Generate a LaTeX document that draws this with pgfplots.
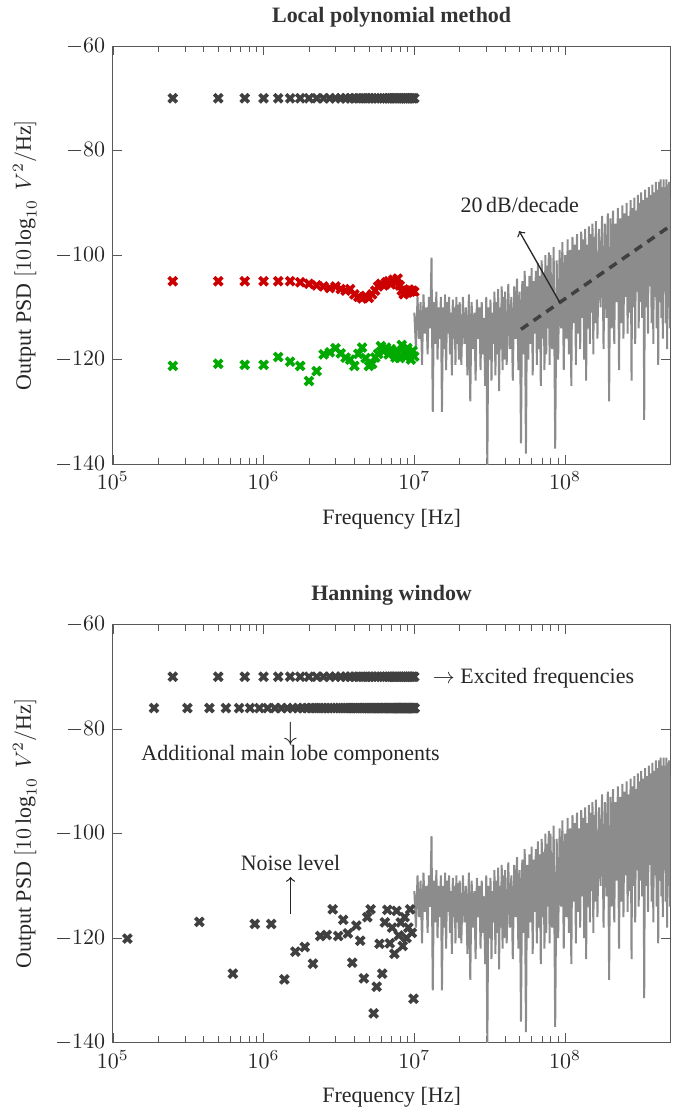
\documentclass[border=0pt]{standalone}
\usepackage{fontspec}
\setmainfont{Liberation Serif}
\usepackage{pgfplots}
\usepackage{pgfplotstable}
\pgfplotsset{compat=1.18}
\definecolor{mkgray}{HTML}{404040}
\definecolor{lpred}{HTML}{CC0000}
\definecolor{lpgreen}{HTML}{00AA00}
\definecolor{noisegray}{HTML}{8C8C8C}

% excited lines: local polynomial estimates (red = noise, green = ...) 
\pgfplotstableread[row sep=\\]{
f exc red green\\
0.25e6 -70 -105.0 -121.2\\ 0.50e6 -70 -105.0 -120.8\\ 0.75e6 -70 -105.0 -121.0\\ 1.00e6 -70 -105.0 -121.0\\
1.25e6 -70 -105.0 -119.5\\ 1.50e6 -70 -105.0 -120.4\\ 1.75e6 -70 -105.2 -121.2\\ 2.00e6 -70 -105.5 -124.1\\
2.25e6 -70 -105.8 -122.2\\ 2.50e6 -70 -106.0 -119.0\\ 2.75e6 -70 -106.3 -118.6\\ 3.00e6 -70 -106.0 -117.8\\
3.25e6 -70 -106.5 -118.8\\ 3.50e6 -70 -106.8 -119.6\\ 3.75e6 -70 -106.5 -120.0\\ 4.00e6 -70 -107.5 -121.2\\
4.25e6 -70 -108.0 -118.9\\ 4.50e6 -70 -108.3 -117.7\\ 4.75e6 -70 -107.8 -119.7\\ 5.00e6 -70 -108.2 -121.2\\
5.25e6 -70 -107.5 -120.8\\ 5.50e6 -70 -106.8 -119.6\\ 5.75e6 -70 -106.0 -118.9\\ 6.00e6 -70 -105.5 -117.4\\
6.25e6 -70 -105.8 -118.4\\ 6.50e6 -70 -105.2 -117.7\\ 6.75e6 -70 -105.0 -119.0\\ 7.00e6 -70 -105.6 -118.0\\
7.25e6 -70 -104.7 -118.6\\ 7.50e6 -70 -105.3 -119.6\\ 7.75e6 -70 -104.5 -118.6\\ 8.00e6 -70 -105.8 -119.7\\
8.25e6 -70 -106.8 -117.2\\ 8.50e6 -70 -107.5 -118.5\\ 8.75e6 -70 -106.8 -119.5\\ 9.00e6 -70 -107.2 -117.8\\
9.25e6 -70 -106.6 -118.8\\ 9.50e6 -70 -107.0 -120.0\\ 9.75e6 -70 -106.8 -118.3\\ 10.00e6 -70 -107.0 -119.4\\
}\lpm

% hanning: main lobe leakage next to each excited line
\pgfplotstableread[row sep=\\]{
f y\\
0.1875e6 -76\\ 0.3125e6 -76\\ 0.4375e6 -76\\ 0.5625e6 -76\\ 0.6875e6 -76\\ 0.8125e6 -76\\ 0.9375e6 -76\\ 1.0625e6 -76\\
1.1875e6 -76\\ 1.3125e6 -76\\ 1.4375e6 -76\\ 1.5625e6 -76\\ 1.6875e6 -76\\ 1.8125e6 -76\\ 1.9375e6 -76\\ 2.0625e6 -76\\
2.1875e6 -76\\ 2.3125e6 -76\\ 2.4375e6 -76\\ 2.5625e6 -76\\ 2.6875e6 -76\\ 2.8125e6 -76\\ 2.9375e6 -76\\ 3.0625e6 -76\\
3.1875e6 -76\\ 3.3125e6 -76\\ 3.4375e6 -76\\ 3.5625e6 -76\\ 3.6875e6 -76\\ 3.8125e6 -76\\ 3.9375e6 -76\\ 4.0625e6 -76\\
4.1875e6 -76\\ 4.3125e6 -76\\ 4.4375e6 -76\\ 4.5625e6 -76\\ 4.6875e6 -76\\ 4.8125e6 -76\\ 4.9375e6 -76\\ 5.0625e6 -76\\
5.1875e6 -76\\ 5.3125e6 -76\\ 5.4375e6 -76\\ 5.5625e6 -76\\ 5.6875e6 -76\\ 5.8125e6 -76\\ 5.9375e6 -76\\ 6.0625e6 -76\\
6.1875e6 -76\\ 6.3125e6 -76\\ 6.4375e6 -76\\ 6.5625e6 -76\\ 6.6875e6 -76\\ 6.8125e6 -76\\ 6.9375e6 -76\\ 7.0625e6 -76\\
7.1875e6 -76\\ 7.3125e6 -76\\ 7.4375e6 -76\\ 7.5625e6 -76\\ 7.6875e6 -76\\ 7.8125e6 -76\\ 7.9375e6 -76\\ 8.0625e6 -76\\
8.1875e6 -76\\ 8.3125e6 -76\\ 8.4375e6 -76\\ 8.5625e6 -76\\ 8.6875e6 -76\\ 8.8125e6 -76\\ 8.9375e6 -76\\ 9.0625e6 -76\\
9.1875e6 -76\\ 9.3125e6 -76\\ 9.4375e6 -76\\ 9.5625e6 -76\\ 9.6875e6 -76\\ 9.8125e6 -76\\ 9.9375e6 -76\\ 10.0625e6 -76\\
}\lobe

% hanning: non-excited bins (noise level)
\pgfplotstableread[row sep=\\]{
f y\\
0.125e6 -120.1\\ 0.375e6 -116.9\\ 0.625e6 -126.8\\ 0.875e6 -117.3\\ 1.125e6 -117.3\\ 1.375e6 -127.9\\
1.625e6 -122.6\\ 1.875e6 -121.7\\ 2.125e6 -124.9\\ 2.375e6 -119.6\\ 2.625e6 -119.4\\ 2.875e6 -114.5\\
3.125e6 -119.6\\ 3.375e6 -116.5\\ 3.625e6 -119.1\\ 3.875e6 -124.7\\ 4.125e6 -117.6\\ 4.375e6 -120.5\\
4.625e6 -127.7\\ 4.875e6 -116.0\\ 5.125e6 -114.5\\ 5.375e6 -134.4\\ 5.625e6 -129.3\\ 5.875e6 -121.1\\
6.125e6 -126.8\\ 6.375e6 -117.0\\ 6.625e6 -114.6\\ 6.875e6 -121.0\\ 7.125e6 -118.0\\ 7.375e6 -123.0\\
7.625e6 -114.8\\ 7.875e6 -119.5\\ 8.125e6 -117.0\\ 8.375e6 -121.5\\ 8.625e6 -116.0\\ 8.875e6 -120.0\\
9.125e6 -118.0\\ 9.375e6 -114.5\\ 9.625e6 -119.0\\ 9.875e6 -131.6\\
}\noisebins

% output spectrum above the excited band
\pgfplotstableread[row sep=\\]{
f y\\
10.00e6 -111\\ 10.25e6 -118\\ 10.50e6 -108\\ 10.75e6 -116\\ 11.00e6 -109\\ 11.25e6 -121\\ 11.50e6 -107.5\\ 11.75e6 -115\\
12.00e6 -110\\ 12.25e6 -119\\ 12.50e6 -108\\ 12.75e6 -114\\ 13.00e6 -100.5\\ 13.25e6 -130\\ 13.50e6 -109\\ 13.75e6 -117\\
14.00e6 -107\\ 14.25e6 -120\\ 14.50e6 -110\\ 14.75e6 -116\\ 15.00e6 -108\\ 15.25e6 -130\\ 15.50e6 -110\\ 15.75e6 -118\\
16.00e6 -107.5\\ 16.25e6 -122\\ 16.50e6 -109\\ 16.75e6 -115\\ 17.00e6 -108\\ 17.25e6 -119\\ 17.50e6 -111\\ 17.75e6 -123\\
18.00e6 -108.5\\ 18.25e6 -116\\ 18.50e6 -110\\ 18.75e6 -121\\ 19.00e6 -108\\ 19.25e6 -117\\ 19.50e6 -109.5\\ 19.75e6 -120\\
20.0e6 -109\\ 20.5e6 -121\\ 21.0e6 -108\\ 21.5e6 -117\\ 22.0e6 -110\\ 22.5e6 -123\\ 23.0e6 -107.5\\ 23.5e6 -128\\
24.0e6 -109\\ 24.5e6 -118\\ 25.0e6 -111\\ 25.5e6 -124\\ 26.0e6 -108.5\\ 26.5e6 -116\\ 27.0e6 -110\\ 27.5e6 -122\\
28.0e6 -109\\ 28.5e6 -119\\ 29.0e6 -112\\ 29.5e6 -125\\ 30.0e6 -108\\ 30.5e6 -141\\ 31.0e6 -110\\ 31.5e6 -120\\
32.0e6 -108.5\\ 32.5e6 -124\\ 33.0e6 -111\\ 33.5e6 -117\\ 34.0e6 -107\\ 34.5e6 -123\\ 35.0e6 -109\\ 35.5e6 -119\\
36.0e6 -106.5\\ 36.5e6 -126\\ 37.0e6 -110\\ 37.5e6 -118\\ 38.0e6 -106\\ 38.5e6 -122\\ 39.0e6 -108\\ 39.5e6 -120\\
40e6 -107\\ 41e6 -121\\ 42e6 -105.5\\ 43e6 -118\\ 44e6 -108\\ 45e6 -124\\ 46e6 -106\\ 47e6 -116\\
48e6 -104.5\\ 49e6 -122\\ 50e6 -107\\ 51e6 -136\\ 52e6 -105\\ 53e6 -119\\ 54e6 -103\\ 55e6 -138\\
56e6 -106\\ 57e6 -120\\ 58e6 -104\\ 59e6 -117\\ 60e6 -102.5\\ 61e6 -123\\ 62e6 -105\\ 63e6 -115\\
64e6 -103\\ 65e6 -121\\ 66e6 -101.5\\ 67e6 -118\\ 68e6 -104\\ 69e6 -125\\ 70e6 -101\\ 71e6 -116\\
72e6 -103.5\\ 73e6 -122\\ 74e6 -100\\ 75e6 -119\\ 76e6 -102\\ 77e6 -114\\ 78e6 -99.5\\ 79e6 -121\\
80e6 -100\\ 82e6 -118\\ 84e6 -98.5\\ 86e6 -137\\ 88e6 -101\\ 90e6 -120\\ 92e6 -99\\ 94e6 -114\\
96e6 -97.5\\ 98e6 -122\\ 100e6 -100\\ 102e6 -116\\ 104e6 -97\\ 106e6 -119\\ 108e6 -99\\ 110e6 -125\\
112e6 -96.5\\ 114e6 -113\\ 116e6 -98\\ 118e6 -121\\ 120e6 -96\\ 122e6 -115\\ 124e6 -99\\ 126e6 -118\\
128e6 -95.5\\ 130e6 -112\\ 132e6 -97\\ 134e6 -120\\ 136e6 -95\\ 138e6 -124\\ 140e6 -98\\ 142e6 -114\\
144e6 -94.5\\ 146e6 -117\\ 148e6 -96\\ 150e6 -111\\ 152e6 -94\\ 154e6 -119\\ 156e6 -96.5\\ 158e6 -113\\
160e6 -93.5\\ 164e6 -116\\ 168e6 -95\\ 172e6 -110\\ 176e6 -92.5\\ 180e6 -118\\ 184e6 -94\\ 188e6 -112\\
192e6 -92\\ 196e6 -128\\ 200e6 -93\\ 204e6 -114\\ 208e6 -91.5\\ 212e6 -117\\ 216e6 -94\\ 220e6 -109\\
224e6 -91\\ 228e6 -122\\ 232e6 -93\\ 236e6 -113\\ 240e6 -90.5\\ 244e6 -116\\ 248e6 -92\\ 252e6 -108\\
256e6 -90\\ 260e6 -115\\ 264e6 -92.5\\ 268e6 -111\\ 272e6 -89.5\\ 276e6 -124\\ 280e6 -91\\ 284e6 -110\\
288e6 -89\\ 292e6 -117\\ 296e6 -91.5\\ 300e6 -107\\ 304e6 -88.5\\ 308e6 -114\\ 312e6 -90\\ 316e6 -109\\
320e6 -88\\ 325e6 -112\\ 330e6 -89.5\\ 335e6 -131.5\\ 340e6 -87.5\\ 345e6 -110\\ 350e6 -89\\ 355e6 -115\\
360e6 -87\\ 365e6 -106\\ 370e6 -88.5\\ 375e6 -113\\ 380e6 -86.5\\ 385e6 -117\\ 390e6 -88\\ 395e6 -108\\
400e6 -86\\ 405e6 -114\\ 410e6 -87.5\\ 415e6 -121\\ 420e6 -86\\ 425e6 -109\\ 430e6 -85.5\\ 435e6 -112\\
440e6 -87\\ 445e6 -116\\ 450e6 -85.5\\ 455e6 -107\\ 460e6 -87\\ 465e6 -113\\ 470e6 -85.5\\ 475e6 -118\\
480e6 -86.5\\ 485e6 -110\\ 490e6 -86\\ 495e6 -114\\ 500e6 -89\\
}\spec

\pgfplotsset{
  psdlook/.style={
    scale only axis, width=254pt, height=190.5pt,
    xmin=1e5, xmax=5e8, ymin=-140, ymax=-60,
    xtick={1e5,1e6,1e7,1e8}, ytick={-140,-120,-100,-80,-60},
    axis line style={black!65}, tick style={black!65},
    ticklabel style={text=black!85},
    label style={text=black!85},
    xlabel={Frequency [Hz]},
    ylabel={Output PSD $[10\log_{10}\ V^2/\mathrm{Hz}]$},
    ylabel shift=1.5pt, xlabel shift=2pt,
    title style={font=\bfseries, text=black!80, yshift=-1pt},
  },
  xmk/.style={only marks, mark=x, mark size=2.6pt, line width=1.7pt},
}

\begin{document}
\begin{tikzpicture}
\begin{axis}[xmode=log, psdlook, name=top, title={Local polynomial method}]
\addplot[noisegray, line width=0.9pt] table[x=f, y=y] {\spec};
\addplot[xmk, mkgray] table[x=f, y=exc] {\lpm};
\addplot[xmk, lpred] table[x=f, y=red] {\lpm};
\addplot[xmk, lpgreen] table[x=f, y=green] {\lpm};
\addplot[mkgray, line width=1.6pt, dash pattern=on 4pt off 3pt] coordinates {(5.1e7,-114.2) (5e8,-94.4)};
\node[text=black!85] at (axis cs:5.0e7,-90.4) {20\,dB/decade};
\draw[->, black!85, line width=0.6pt] (axis cs:9.2e7,-109.0) -- (axis cs:4.96e7,-95.4);
\end{axis}
% margins as in the original page
\path ([xshift=-51.4pt]top.south west) -- ([xshift=9pt]top.south east);

\begin{axis}[xmode=log, psdlook, at={(0,-263.5pt)}, title={Hanning window}]
\addplot[noisegray, line width=0.9pt] table[x=f, y=y] {\spec};
\addplot[xmk, mkgray] table[x=f, y=exc] {\lpm};
\addplot[xmk, mkgray] table[x=f, y=y] {\lobe};
\addplot[xmk, mkgray] table[x=f, y=y] {\noisebins};
\node[anchor=west, text=black!85] at (axis cs:1.18e7,-70.3) {$\rightarrow$\ Excited frequencies};
\node[text=black!85, font=\large] at (axis cs:1.51e6,-80.9) {$\downarrow$};
\node[text=black!85] at (axis cs:1.51e6,-85.0) {Additional main lobe components};
\node[text=black!85] at (axis cs:1.51e6,-105.6) {Noise level};
\draw[->, black!85, line width=0.6pt] (axis cs:1.51e6,-115.4) -- (axis cs:1.51e6,-108.3);
\end{axis}
\end{tikzpicture}
\end{document}
